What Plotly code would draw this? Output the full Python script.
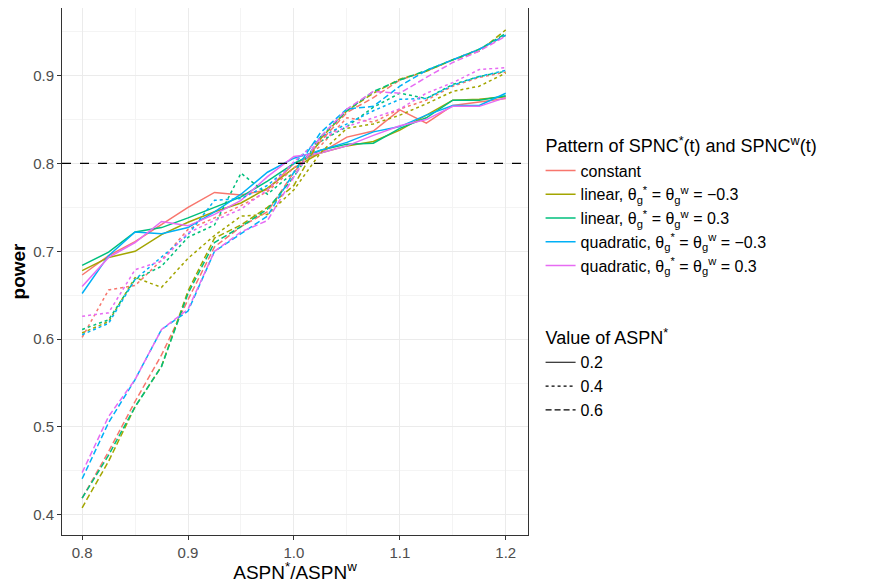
import plotly.graph_objects as go

# x values: ratio ASPN*/ASPNw
ratio = [0.8, 0.825, 0.85, 0.875, 0.9, 0.925, 0.95, 0.975, 1.0,
         1.025, 1.05, 1.075, 1.1, 1.125, 1.15, 1.175, 1.2]

patterns = ["constant",
            "linear, θ<sub>g</sub><sup>*</sup> = θ<sub>g</sub><sup>w</sup> = −0.3",
            "linear, θ<sub>g</sub><sup>*</sup> = θ<sub>g</sub><sup>w</sup> = 0.3",
            "quadratic, θ<sub>g</sub><sup>*</sup> = θ<sub>g</sub><sup>w</sup> = −0.3",
            "quadratic, θ<sub>g</sub><sup>*</sup> = θ<sub>g</sub><sup>w</sup> = 0.3"]
aspn_levels = ["0.2", "0.4", "0.6"]

# ASPN* = 0.2
power_02_constant = [0.673, 0.695, 0.711, 0.730, 0.750, 0.767, 0.764, 0.770, 0.800, 0.812, 0.830, 0.837, 0.861, 0.846, 0.866, 0.870, 0.874]
power_02_lin_neg = [0.678, 0.693, 0.700, 0.719, 0.733, 0.745, 0.755, 0.772, 0.795, 0.812, 0.820, 0.825, 0.838, 0.855, 0.872, 0.873, 0.876]
power_02_lin_pos = [0.684, 0.699, 0.722, 0.727, 0.738, 0.750, 0.762, 0.780, 0.800, 0.815, 0.822, 0.823, 0.840, 0.852, 0.872, 0.872, 0.877]
power_02_quad_neg = [0.652, 0.695, 0.722, 0.720, 0.727, 0.745, 0.765, 0.790, 0.806, 0.815, 0.824, 0.836, 0.842, 0.855, 0.866, 0.866, 0.880]
power_02_quad_pos = [0.660, 0.693, 0.710, 0.734, 0.729, 0.742, 0.758, 0.785, 0.808, 0.812, 0.820, 0.832, 0.843, 0.850, 0.865, 0.865, 0.875]

# ASPN* = 0.4
power_04_constant = [0.602, 0.656, 0.661, 0.690, 0.725, 0.738, 0.752, 0.768, 0.795, 0.820, 0.852, 0.847, 0.862, 0.872, 0.888, 0.898, 0.904]
power_04_lin_neg = [0.607, 0.620, 0.670, 0.659, 0.692, 0.718, 0.740, 0.742, 0.770, 0.812, 0.840, 0.845, 0.855, 0.868, 0.882, 0.888, 0.903]
power_04_lin_pos = [0.611, 0.622, 0.668, 0.683, 0.716, 0.730, 0.789, 0.765, 0.790, 0.825, 0.842, 0.864, 0.880, 0.874, 0.890, 0.899, 0.905]
power_04_quad_neg = [0.605, 0.618, 0.668, 0.693, 0.719, 0.758, 0.760, 0.775, 0.800, 0.830, 0.845, 0.860, 0.873, 0.874, 0.889, 0.899, 0.906]
power_04_quad_pos = [0.626, 0.630, 0.679, 0.689, 0.721, 0.735, 0.748, 0.770, 0.802, 0.828, 0.842, 0.852, 0.862, 0.880, 0.892, 0.907, 0.909]

# ASPN* = 0.6
power_06_constant = [0.419, 0.472, 0.529, 0.582, 0.645, 0.705, 0.728, 0.745, 0.790, 0.825, 0.858, 0.875, 0.895, 0.905, 0.918, 0.930, 0.946]
power_06_lin_neg = [0.408, 0.461, 0.523, 0.569, 0.655, 0.715, 0.730, 0.750, 0.775, 0.828, 0.860, 0.880, 0.896, 0.905, 0.918, 0.928, 0.952]
power_06_lin_pos = [0.419, 0.468, 0.523, 0.569, 0.652, 0.710, 0.728, 0.748, 0.785, 0.830, 0.860, 0.882, 0.895, 0.906, 0.918, 0.930, 0.948]
power_06_quad_neg = [0.441, 0.505, 0.554, 0.611, 0.632, 0.700, 0.720, 0.740, 0.790, 0.835, 0.862, 0.865, 0.888, 0.906, 0.918, 0.930, 0.946]
power_06_quad_pos = [0.448, 0.512, 0.554, 0.611, 0.634, 0.700, 0.722, 0.735, 0.785, 0.830, 0.862, 0.882, 0.880, 0.898, 0.915, 0.928, 0.945]

series = {
    "0.2": [power_02_constant, power_02_lin_neg, power_02_lin_pos, power_02_quad_neg, power_02_quad_pos],
    "0.4": [power_04_constant, power_04_lin_neg, power_04_lin_pos, power_04_quad_neg, power_04_quad_pos],
    "0.6": [power_06_constant, power_06_lin_neg, power_06_lin_pos, power_06_quad_neg, power_06_quad_pos],
}

colors = ["#F8766D", "#A3A500", "#00BF7D", "#00B0F6", "#E76BF3"]
dashes = {"0.2": "solid", "0.4": "3px,3px", "0.6": "6px,3px"}

fig = go.Figure()

# data lines
for lvl in aspn_levels:
    for i, ys in enumerate(series[lvl]):
        fig.add_trace(go.Scatter(x=ratio, y=ys, mode="lines", showlegend=False,
                                 line=dict(color=colors[i], width=1.5, dash=dashes[lvl])))

# legend keys: colour
for i, name in enumerate(patterns):
    fig.add_trace(go.Scatter(x=[None], y=[None], mode="lines", name=name,
                             line=dict(color=colors[i], width=1.5),
                             legendgroup="pattern", legend="legend",
                             legendgrouptitle_text=("Pattern of SPNC<sup>*</sup>(t) and SPNC<sup>w</sup>(t)" if i == 0 else None)))

# legend keys: linetype
for lvl in aspn_levels:
    fig.add_trace(go.Scatter(x=[None], y=[None], mode="lines", name=lvl,
                             line=dict(color="black", width=1.2, dash=dashes[lvl]),
                             legendgroup="aspn", legend="legend2",
                             legendgrouptitle_text=("Value of ASPN<sup>*</sup>" if lvl == "0.2" else None)))

fig.add_hline(y=0.8, line_dash="dash", line_color="black", line_width=1.2)

axis_common = dict(showline=True, linecolor="#333333", linewidth=1, mirror=True,
                   showgrid=True, gridcolor="#EBEBEB", gridwidth=1,
                   ticks="outside", ticklen=4, tickcolor="#333333",
                   tickfont=dict(size=15, color="#4D4D4D"), zeroline=False,
                   minor=dict(showgrid=True, gridcolor="#F4F4F4", gridwidth=0.8))

fig.update_xaxes(range=[0.781, 1.221], tickvals=[0.8, 0.9, 1.0, 1.1, 1.2],
                 ticktext=["0.8", "0.9", "1.0", "1.1", "1.2"], automargin=True,
                 title=dict(text="ASPN<sup>*</sup>/ASPN<sup>w</sup>", font=dict(size=19, color="black"), standoff=3),
                 **axis_common)
fig.update_xaxes(minor=dict(tickvals=[0.85, 0.95, 1.05, 1.15], ticks=""))
fig.update_yaxes(range=[0.377, 0.977], tickvals=[0.4, 0.5, 0.6, 0.7, 0.8, 0.9],
                 title=dict(text="<b>power</b>", font=dict(size=19, color="black"), standoff=6),
                 **axis_common)
fig.update_yaxes(minor=dict(tickvals=[0.45, 0.55, 0.65, 0.75, 0.85, 0.95], ticks=""))

fig.update_layout(
    width=861, height=575,
    margin=dict(l=54, r=341, t=0, b=48),
    plot_bgcolor="white", paper_bgcolor="white",
    font=dict(family="Arial, Liberation Sans, sans-serif", color="black"),
    legend=dict(x=1.027, y=0.774, xanchor="left", yanchor="top",
                font=dict(size=16), tracegroupgap=0,
                grouptitlefont=dict(size=18), bgcolor="rgba(0,0,0,0)"),
    legend2=dict(x=1.027, y=0.41, xanchor="left", yanchor="top",
                 font=dict(size=16), tracegroupgap=0,
                 grouptitlefont=dict(size=18), bgcolor="rgba(0,0,0,0)"),
)

fig.write_html("out.html")
